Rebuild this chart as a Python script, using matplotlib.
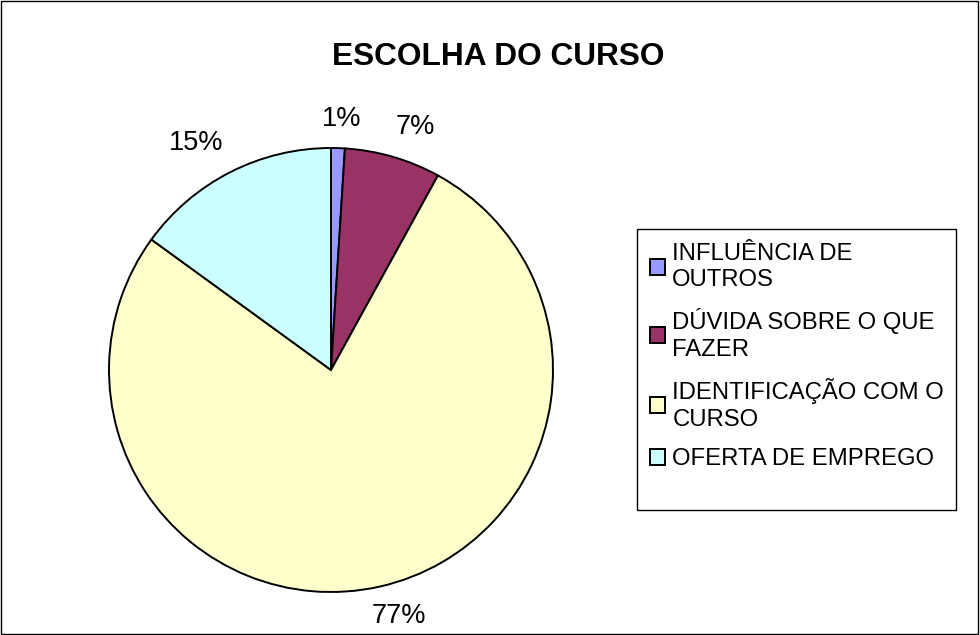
import matplotlib
matplotlib.use('Agg')
import matplotlib.pyplot as plt
import numpy as np
from matplotlib.patches import Rectangle, Patch

# dados do grafico
categorias = ['INFLUÊNCIA DE\nOUTROS', 'DÚVIDA SOBRE O QUE\nFAZER',
              'IDENTIFICAÇÃO COM O\nCURSO', 'OFERTA DE EMPREGO']
valores = [1, 7, 77, 15]
cores = ['#9999FF', '#993366', '#FFFFCC', '#CCFFFF']
titulo = 'ESCOLHA DO CURSO'

# ajuste dos rotulos (angulo extra em graus, distancia do centro)
ajuste_ang = [-0.7, -2.8, 2.9, 3.6]
ajuste_dist = [1.13, 1.16, 1.15, 1.19]

plt.rcParams['font.family'] = ['Liberation Sans', 'DejaVu Sans']

W, H = 980, 635
fig = plt.figure(figsize=(W / 100, H / 100), dpi=100)

# borda externa
fig.patches.append(Rectangle((0.001, 0.001), 0.997, 0.997, transform=fig.transFigure,
                             fill=False, edgecolor='black', linewidth=1))

cx, cy, r = 331, 370, 222
ax = fig.add_axes([(cx - r) / W, (H - cy - r) / H, 2 * r / W, 2 * r / H])
wedges, textos, pct = ax.pie(valores, colors=cores, startangle=90, counterclock=False,
                             autopct='%1.0f%%', pctdistance=1.15, radius=1,
                             wedgeprops=dict(edgecolor='black', linewidth=1.4),
                             textprops=dict(fontsize=19.5, color='black'))
for w, t, da, d in zip(wedges, pct, ajuste_ang, ajuste_dist):
    ang = np.deg2rad((w.theta1 + w.theta2) / 2 + da)
    t.set_position((d * np.cos(ang), d * np.sin(ang)))
ax.set_xlim(-1, 1)
ax.set_ylim(-1, 1)
ax.set_aspect('equal')
ax.axis('off')

fig.text(498 / W, 1 - 57 / H, titulo, ha='center', va='center',
         fontsize=22.8, fontweight='bold')

# caixa da legenda
lx0, ly0, lx1, ly1 = 637, 229, 956, 510
fig.patches.append(Rectangle((lx0 / W, 1 - ly1 / H), (lx1 - lx0) / W, (ly1 - ly0) / H,
                             transform=fig.transFigure, fill=False,
                             edgecolor='black', linewidth=1))
handles = [Patch(facecolor=c, edgecolor='black', linewidth=1.4) for c in cores]
leg = fig.legend(handles, categorias, loc='upper left',
                 bbox_to_anchor=(640 / W, 1 - 233 / H), frameon=False,
                 fontsize=17.2, handlelength=0.65, handleheight=0.65,
                 handletextpad=0.3, labelspacing=0.72, borderaxespad=0)
for t in leg.get_texts():
    t.set_linespacing(1.27)

fig.savefig('out.png', dpi=100)
